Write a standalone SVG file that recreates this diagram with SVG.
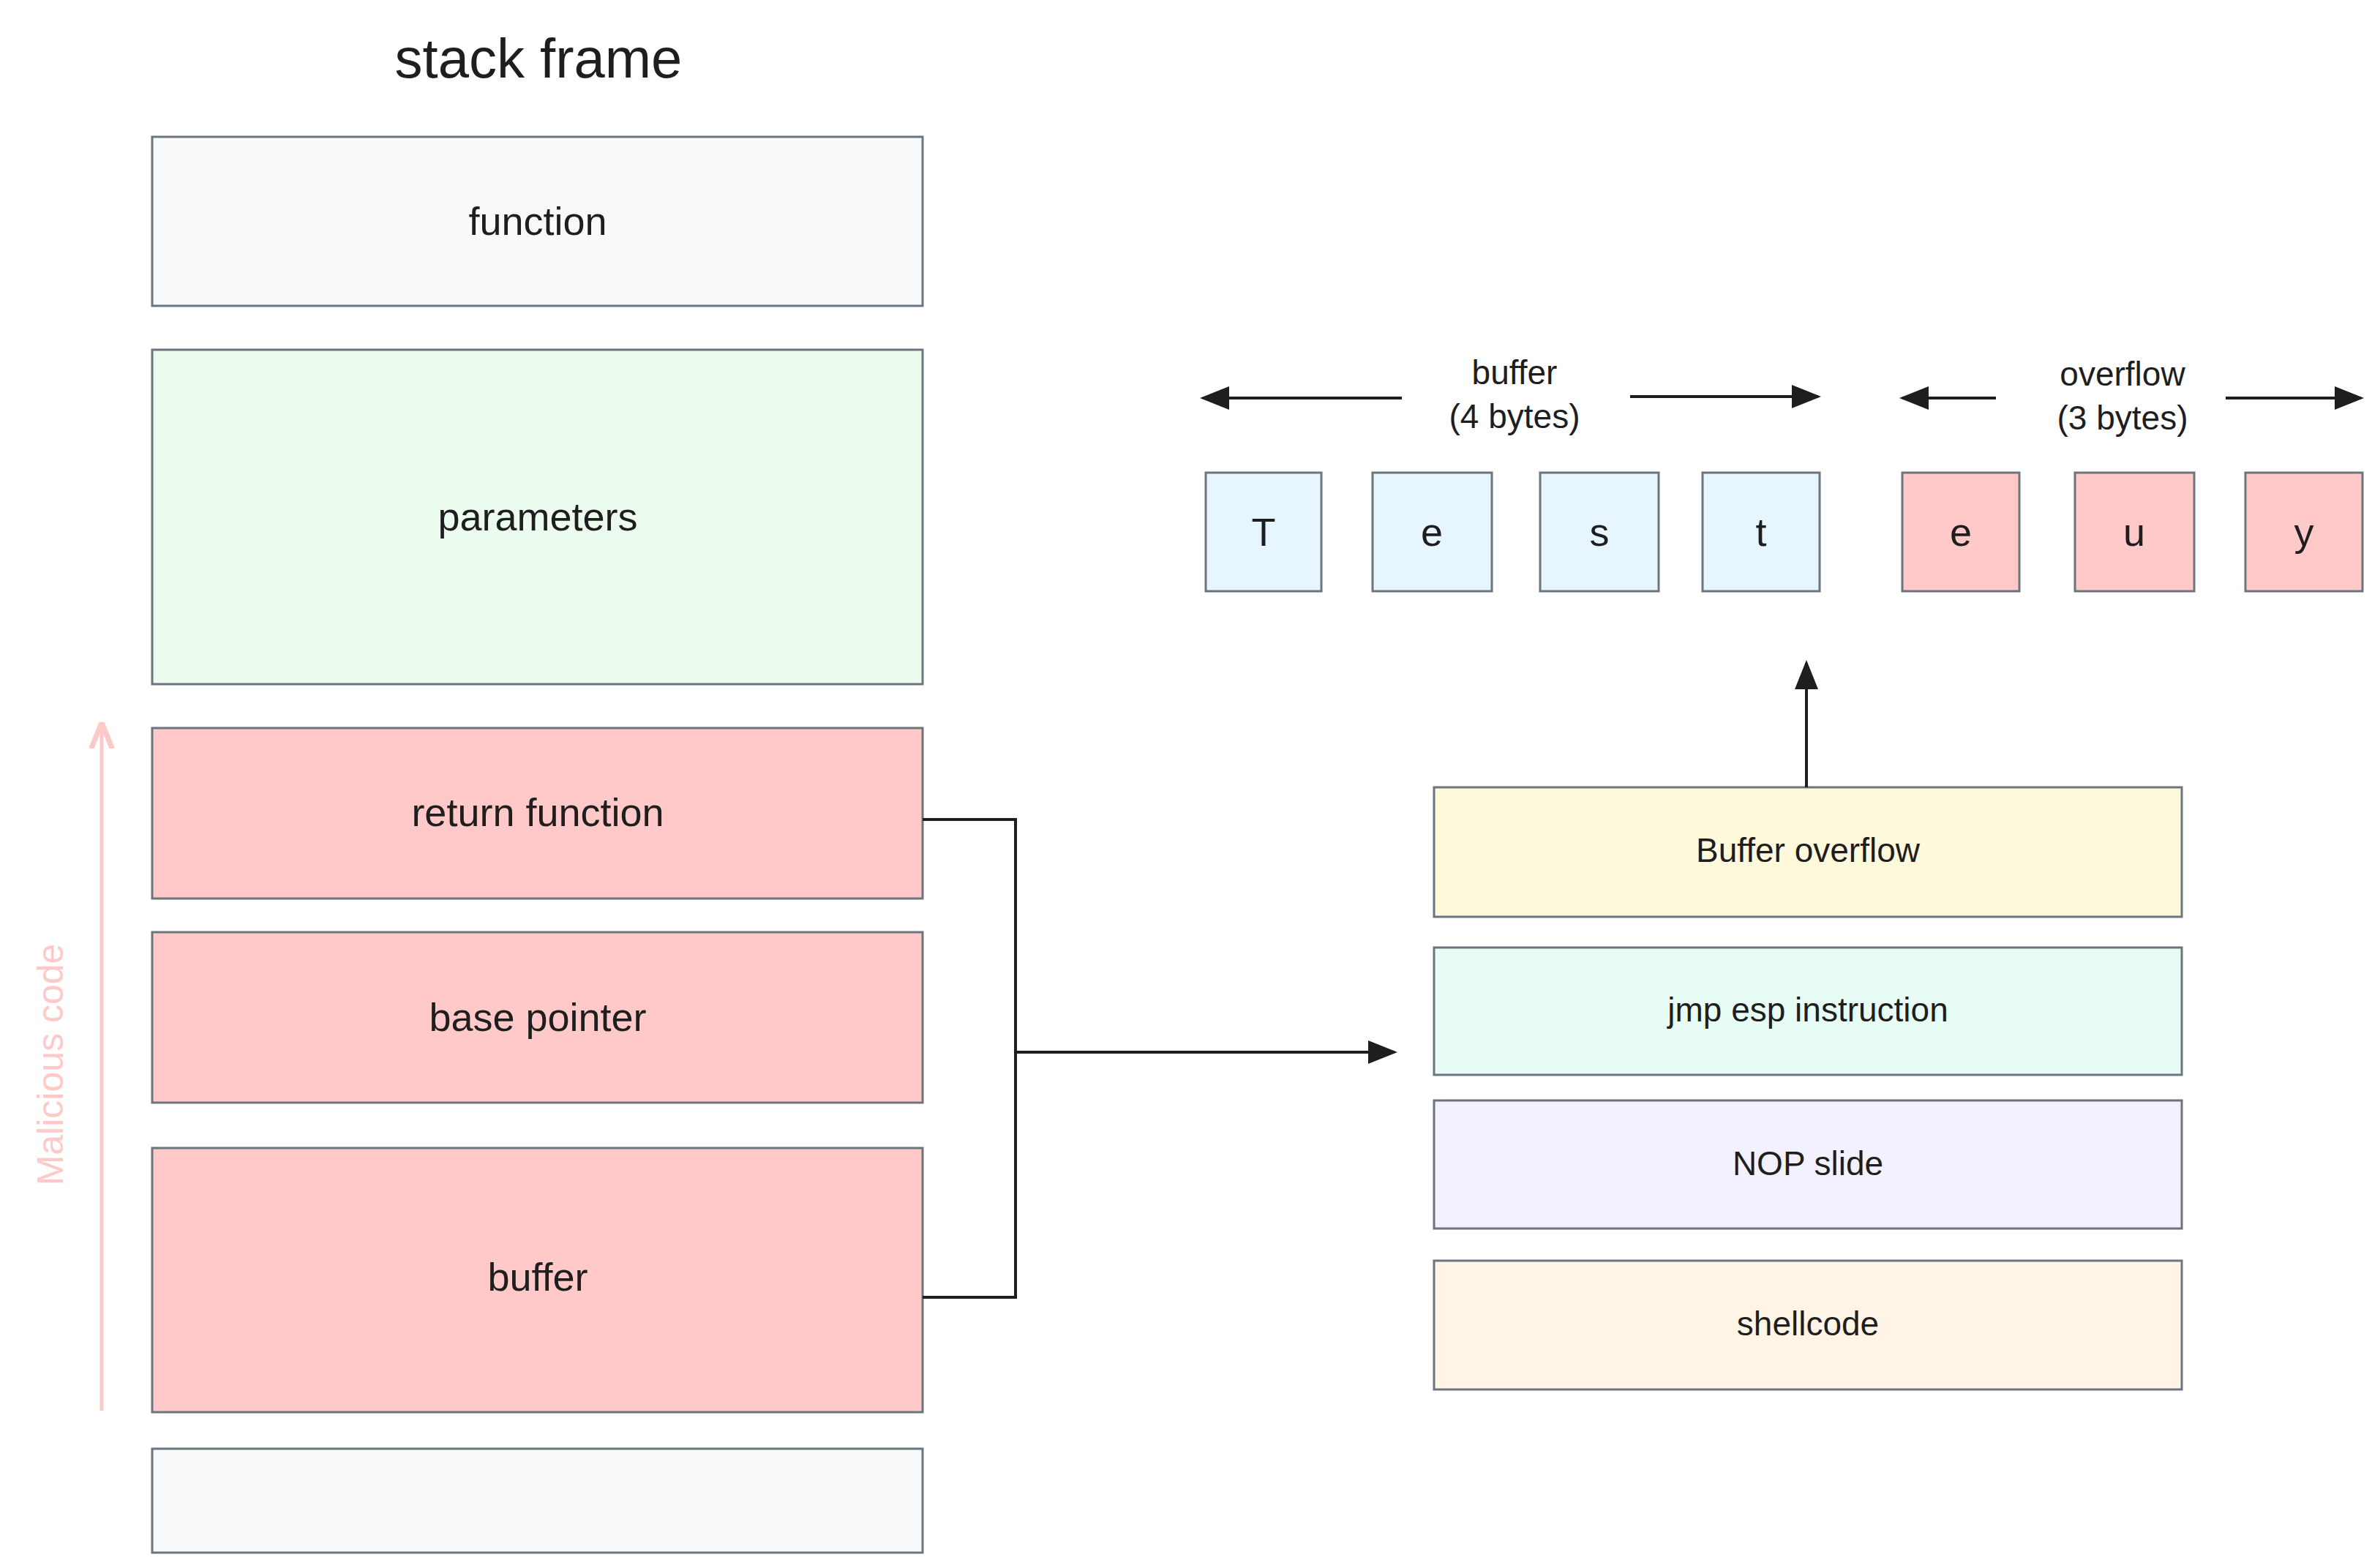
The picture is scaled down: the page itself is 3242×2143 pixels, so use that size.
<svg xmlns="http://www.w3.org/2000/svg" width="3242" height="2143" viewBox="0 0 3242 2143">
<defs>
<marker id="ah" viewBox="0 0 10 10" refX="9" refY="5" markerWidth="9" markerHeight="9" markerUnits="userSpaceOnUse" orient="auto-start-reverse"><path d="M0,0 L10,5 L0,10 z" fill="#1e1e1e"/></marker>
<marker id="ahs" viewBox="0 0 10 10" refX="9" refY="5" markerWidth="40" markerHeight="40" markerUnits="userSpaceOnUse" orient="auto-start-reverse"><path d="M0,1 L10,5 L0,9 z" fill="#1e1e1e"/></marker>
<marker id="ahr" viewBox="0 0 10 10" refX="9" refY="5" markerWidth="36" markerHeight="36" markerUnits="userSpaceOnUse" orient="auto"><path d="M0,1 L10,5 L0,9" fill="none" stroke="#ffc9c9" stroke-width="2"/></marker>
</defs>
<style>
text{font-family:"Liberation Sans",sans-serif;fill:#1e1e1e;text-anchor:middle;dominant-baseline:central}
.b{stroke:#6c757d;stroke-width:3}
.t{font-size:54px}
.s{font-size:46px}
.c{fill:none;stroke:#1e1e1e;stroke-width:4}
</style>
<rect width="3242" height="2143" fill="#fff"/>
<text x="736" y="79" font-size="76">stack frame</text>
<g id="function"><rect class="b" x="208" y="187" width="1053" height="231" fill="#f8f9fa"/><text class="t" x="735" y="302">function</text></g>
<g id="parameters"><rect class="b" x="208" y="478" width="1053" height="457" fill="#ebfbee"/><text class="t" x="735" y="706">parameters</text></g>
<g id="return"><rect class="b" x="208" y="995" width="1053" height="233" fill="#ffc9c9"/><text class="t" x="735" y="1110">return function</text></g>
<g id="basepointer"><rect class="b" x="208" y="1274" width="1053" height="233" fill="#ffc9c9"/><text class="t" x="735" y="1390">base pointer</text></g>
<g id="buffer"><rect class="b" x="208" y="1569" width="1053" height="361" fill="#ffc9c9"/><text class="t" x="735" y="1745">buffer</text></g>
<g id="bottom"><rect class="b" x="208" y="1980" width="1053" height="142" fill="#f8f9fa"/></g>
<g id="malicious"><line x1="139" y1="1928" x2="139" y2="991" stroke="#ffc9c9" stroke-width="5" marker-end="url(#ahr)"/><text x="69" y="1455" font-size="50" fill="#ffc9c9" style="fill:#ffc9c9" transform="rotate(-90 69 1455)">Malicious code</text></g>
<g id="bo"><rect class="b" x="1960" y="1076" width="1022" height="177" fill="#fff9db"/><text class="s" x="2471" y="1162">Buffer overflow</text></g>
<g id="jmp"><rect class="b" x="1960" y="1295" width="1022" height="174" fill="#e6fcf5"/><text class="s" x="2471" y="1380">jmp esp instruction</text></g>
<g id="nop"><rect class="b" x="1960" y="1504" width="1022" height="175" fill="#f3f0ff"/><text class="s" x="2471" y="1590">NOP slide</text></g>
<g id="shell"><rect class="b" x="1960" y="1723" width="1022" height="176" fill="#fff4e6"/><text class="s" x="2471" y="1809">shellcode</text></g>
<g id="cells">
<rect class="b" x="1648" y="646" width="158" height="162" fill="#e7f5ff"/><text class="t" x="1727" y="727">T</text>
<rect class="b" x="1876" y="646" width="163" height="162" fill="#e7f5ff"/><text class="t" x="1957" y="727">e</text>
<rect class="b" x="2105" y="646" width="162" height="162" fill="#e7f5ff"/><text class="t" x="2186" y="727">s</text>
<rect class="b" x="2327" y="646" width="160" height="162" fill="#e7f5ff"/><text class="t" x="2407" y="727">t</text>
<rect class="b" x="2600" y="646" width="160" height="162" fill="#ffc9c9"/><text class="t" x="2680" y="727">e</text>
<rect class="b" x="2836" y="646" width="163" height="162" fill="#ffc9c9"/><text class="t" x="2917" y="727">u</text>
<rect class="b" x="3069" y="646" width="160" height="162" fill="#ffc9c9"/><text class="t" x="3149" y="727">y</text>
</g>
<g id="labels">
<text class="s" x="2070" y="509">buffer</text><text class="s" x="2070" y="569">(4 bytes)</text>
<text class="s" x="2901" y="511">overflow</text><text class="s" x="2901" y="571">(3 bytes)</text>
</g>
<g id="connectors">
<polyline class="c" points="1261,1120 1388,1120 1388,1773 1261,1773"/>
<line class="c" x1="1388" y1="1438" x2="1906" y2="1438" marker-end="url(#ahs)"/>
<line class="c" x1="2469" y1="1076" x2="2469" y2="906" marker-end="url(#ahs)"/>
<line class="c" x1="1916" y1="544" x2="1644" y2="544" marker-end="url(#ahs)"/>
<line class="c" x1="2228" y1="542" x2="2485" y2="542" marker-end="url(#ahs)"/>
<line class="c" x1="2728" y1="544" x2="2600" y2="544" marker-end="url(#ahs)"/>
<line class="c" x1="3042" y1="544" x2="3227" y2="544" marker-end="url(#ahs)"/>
</g>
</svg>
